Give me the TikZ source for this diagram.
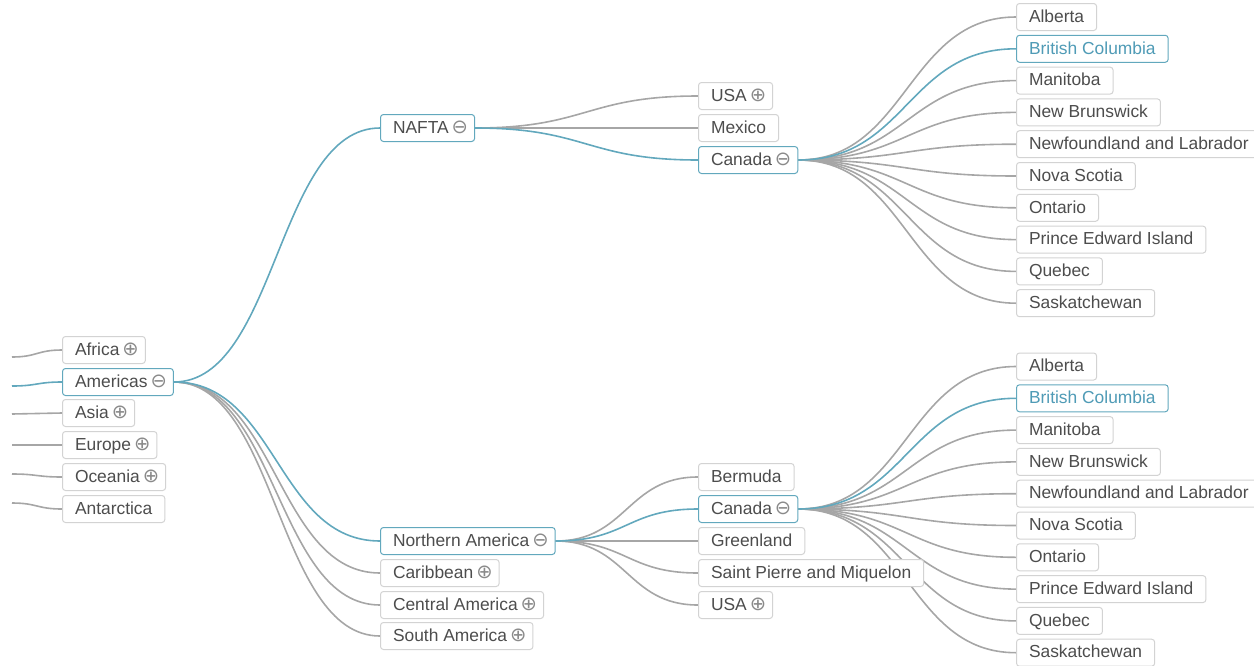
\documentclass[tikz,border=0pt]{standalone}
\usepackage{fontspec}
\setmainfont{Liberation Sans}
\newfontfamily\symf{DejaVu Sans}
\usetikzlibrary{calc}
\pgfdeclarelayer{bg}
\pgfsetlayers{bg,main}
\definecolor{textgray}{HTML}{4D4D4D}
\definecolor{boxgray}{HTML}{D3D3D3}
\definecolor{edgegray}{HTML}{A6A6A6}
\definecolor{hl}{HTML}{62A8BD}
\definecolor{hltext}{HTML}{4F9BB6}
\definecolor{symgray}{HTML}{8A8A8A}
\newcommand\pl{\kern3pt{\symf\fontsize{19.5}{20}\selectfont\color{symgray}⊕}\kern-6pt}
\newcommand\mi{\kern3pt{\symf\fontsize{19.5}{20}\selectfont\color{symgray}⊖}\kern-6pt}
\newcommand\conn[3]{\path ($(#2.east)!0.5!(#3.west)$) coordinate (cm);
  \draw[#1] (#2.east) .. controls (cm |- #2.east) and (cm |- #3.west) .. (#3.west);}
\newcommand\stub[3]{\draw[#1] (#2) .. controls +(25,0) and ($(#3.west)+(-25,0)$) .. (#3.west);}
\tikzset{
  box/.style={draw=boxgray, rounded corners=3pt, fill=white, anchor=west,
    inner xsep=12.5pt, inner ysep=0pt, minimum height=27pt,
    text height=13.5pt, text depth=3pt,
    font=\fontsize{17.4}{20}\selectfont, text=textgray, line width=1pt},
  hbox/.style={box, draw=hl},
  edge/.style={draw=edgegray, line width=1.6pt},
  hedge/.style={draw=hl, line width=1.6pt}
}
\begin{document}
\begin{tikzpicture}[x=1pt,y=-1pt]
\useasboundingbox (0,0) rectangle (1254,665);
% left column
\node[box]  (africa)     at (62,350) {Africa\pl};
\node[hbox] (americas)   at (62,382) {Americas\mi};
\node[box]  (asia)       at (62,413) {Asia\pl};
\node[box]  (europe)     at (62,445) {Europe\pl};
\node[box]  (oceania)    at (62,477) {Oceania\pl};
\node[box]  (antarctica) at (62,509) {Antarctica};
% stubs from the left
\coordinate (la) at (12,357);
\coordinate (lb) at (12,386);
\coordinate (lc) at (12,414);
\coordinate (ld) at (12,445);
\coordinate (le) at (12,474);
\coordinate (lf) at (12,503);
% middle column
\node[hbox] (nafta)   at (380,128) {NAFTA\mi};
\node[hbox] (nam)     at (380,541) {Northern America\mi};
\node[box]  (carib)   at (380,573) {Caribbean\pl};
\node[box]  (centam)  at (380,605) {Central America\pl};
\node[box]  (southam) at (380,636) {South America\pl};
% third column
\node[box]  (usa1)      at (698,96)  {USA\pl};
\node[box]  (mexico)    at (698,128) {Mexico};
\node[hbox] (canada1)   at (698,160) {Canada\mi};
\node[box]  (bermuda)   at (698,477) {Bermuda};
\node[hbox] (canada2)   at (698,509) {Canada\mi};
\node[box]  (greenland) at (698,541) {Greenland};
\node[box]  (spm)       at (698,573) {Saint Pierre and Miquelon};
\node[box]  (usa2)      at (698,605) {USA\pl};
% provinces
\foreach \n [count=\i] in {Alberta, British Columbia, Manitoba, New Brunswick,
  Newfoundland and Labrador, Nova Scotia, Ontario, Prince Edward Island, Quebec, Saskatchewan}{
  \ifnum\i=2
    \node[hbox, text=hltext] (pa\i) at (1016,{17+31.8*(\i-1)}) {\n};
    \node[hbox, text=hltext] (pb\i) at (1016,{366.5+31.8*(\i-1)}) {\n};
  \else
    \node[box] (pa\i) at (1016,{17+31.8*(\i-1)}) {\n};
    \node[box] (pb\i) at (1016,{366.5+31.8*(\i-1)}) {\n};
  \fi
}
\begin{pgfonlayer}{bg}
  \stub{edge}{la}{africa}
  \stub{hedge}{lb}{americas}
  \stub{edge}{lc}{asia}
  \stub{edge}{ld}{europe}
  \stub{edge}{le}{oceania}
  \stub{edge}{lf}{antarctica}
  \conn{edge}{americas}{carib}
  \conn{edge}{americas}{centam}
  \conn{edge}{americas}{southam}
  \conn{hedge}{americas}{nafta}
  \conn{hedge}{americas}{nam}
  \conn{edge}{nafta}{usa1}
  \conn{edge}{nafta}{mexico}
  \conn{hedge}{nafta}{canada1}
  \conn{edge}{nam}{bermuda}
  \conn{edge}{nam}{greenland}
  \conn{edge}{nam}{spm}
  \conn{edge}{nam}{usa2}
  \conn{hedge}{nam}{canada2}
  \foreach \i in {1,3,4,5,6,7,8,9,10}{
    \conn{edge}{canada1}{pa\i}
    \conn{edge}{canada2}{pb\i}
  }
  \conn{hedge}{canada1}{pa2}
  \conn{hedge}{canada2}{pb2}
\end{pgfonlayer}
\end{tikzpicture}
\end{document}
